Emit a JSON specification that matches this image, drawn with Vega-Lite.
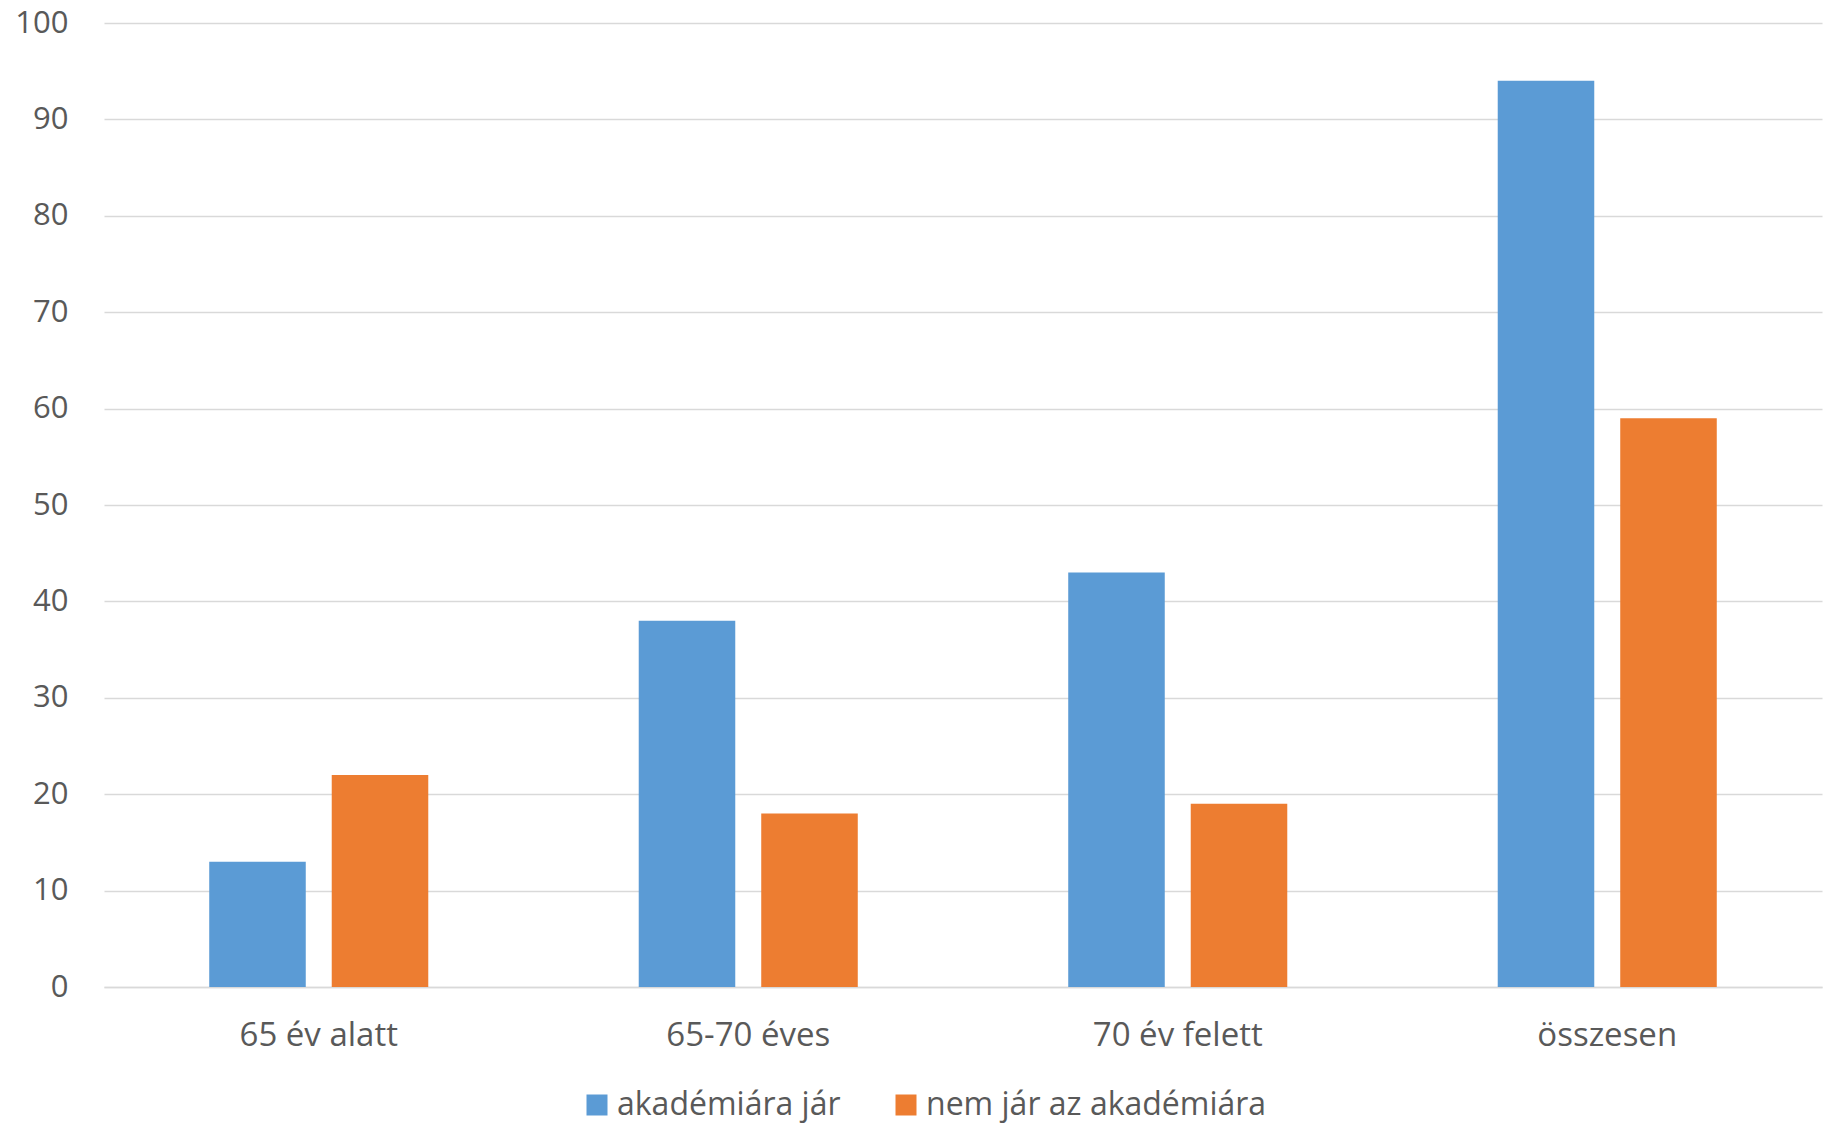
{
  "$schema": "https://vega.github.io/schema/vega-lite/v6.json",
  "width": 1718,
  "height": 964,
  "autosize": {"type": "none"},
  "padding": {"left": 104, "top": 23, "right": 8, "bottom": 136},
  "background": "white",
  "data": {
    "values": [
      {"kor": "65 év alatt", "csoport": "akadémiára jár", "ertek": 13},
      {"kor": "65 év alatt", "csoport": "nem jár az akadémiára", "ertek": 22},
      {"kor": "65-70 éves", "csoport": "akadémiára jár", "ertek": 38},
      {"kor": "65-70 éves", "csoport": "nem jár az akadémiára", "ertek": 18},
      {"kor": "70 év felett", "csoport": "akadémiára jár", "ertek": 43},
      {"kor": "70 év felett", "csoport": "nem jár az akadémiára", "ertek": 19},
      {"kor": "összesen", "csoport": "akadémiára jár", "ertek": 94},
      {"kor": "összesen", "csoport": "nem jár az akadémiára", "ertek": 59}
    ]
  },
  "mark": {"type": "bar"},
  "encoding": {
    "x": {
      "field": "kor",
      "type": "nominal",
      "sort": null,
      "scale": {"paddingInner": 0.49, "paddingOuter": 0.245},
      "axis": {
        "title": null,
        "labelAngle": 0,
        "ticks": false,
        "domain": true,
        "domainColor": "#d9d9d9",
        "domainWidth": 1.5,
        "labelFont": "Open Sans",
        "labelFontSize": 33,
        "labelColor": "#595959",
        "labelPadding": 32
      }
    },
    "xOffset": {
      "field": "csoport",
      "type": "nominal",
      "scale": {"paddingInner": 0.212, "paddingOuter": 0}
    },
    "y": {
      "field": "ertek",
      "type": "quantitative",
      "scale": {"domain": [0, 100], "nice": false},
      "axis": {
        "title": null,
        "values": [0, 10, 20, 30, 40, 50, 60, 70, 80, 90, 100],
        "ticks": false,
        "domain": false,
        "grid": true,
        "gridColor": "#d9d9d9",
        "gridWidth": 1.5,
        "labelFont": "Open Sans",
        "labelFontSize": 31,
        "labelColor": "#595959",
        "labelPadding": 36
      }
    },
    "color": {
      "field": "csoport",
      "type": "nominal",
      "scale": {
        "domain": ["akadémiára jár", "nem jár az akadémiára"],
        "range": ["#5b9bd5", "#ed7d31"]
      },
      "legend": {
        "title": null,
        "orient": "none",
        "direction": "horizontal",
        "legendX": 477,
        "legendY": 1066,
        "symbolType": "square",
        "symbolSize": 441,
        "symbolStrokeWidth": 0,
        "labelFont": "Open Sans",
        "labelFontSize": 32,
        "labelColor": "#595959",
        "labelOffset": 4,
        "labelLimit": 0,
        "columnPadding": 49
      }
    }
  },
  "config": {
    "view": {"stroke": null}
  }
}
